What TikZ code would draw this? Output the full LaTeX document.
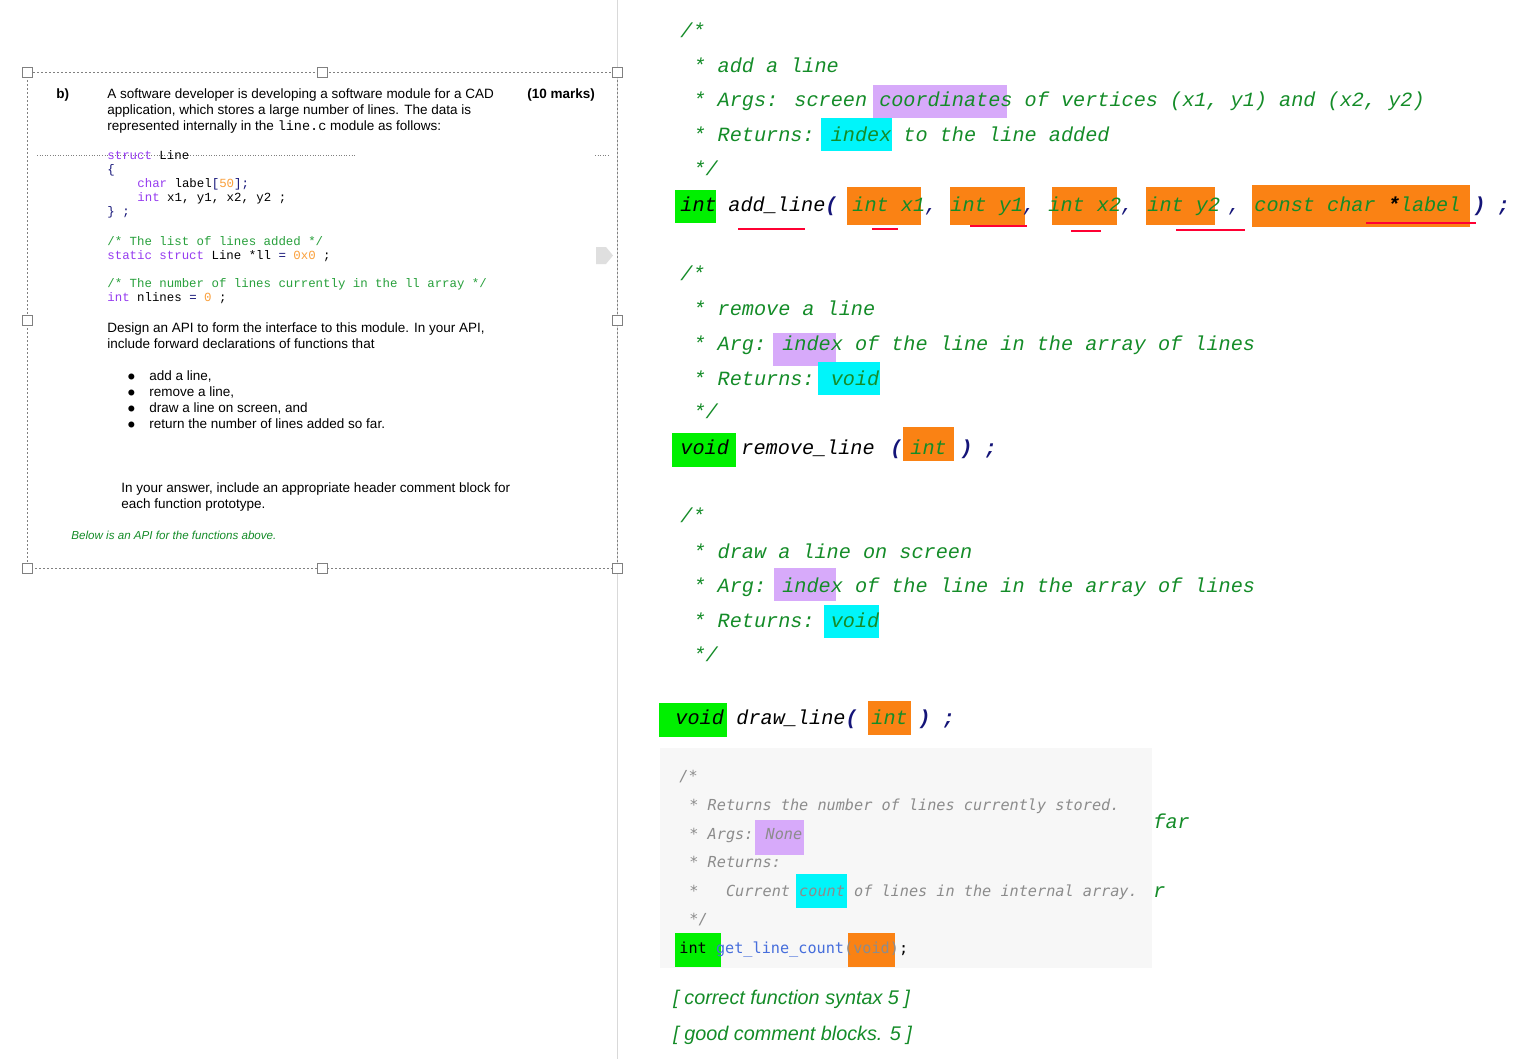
\documentclass[tikz,border=0pt]{standalone}
\usepackage{fontspec}
\setmainfont{Liberation Sans}
\newfontfamily\cm{Liberation Mono}
\newfontfamily\gm{DejaVu Sans Mono}
\definecolor{cg}{RGB}{20,140,40}
\definecolor{hgreen}{RGB}{0,240,0}
\definecolor{horange}{RGB}{250,130,20}
\definecolor{hpurple}{RGB}{215,170,250}
\definecolor{hcyan}{RGB}{0,245,250}
\definecolor{kw}{RGB}{150,60,240}
\definecolor{num}{RGB}{250,160,60}
\definecolor{nv}{RGB}{20,20,120}
\definecolor{lg}{RGB}{40,160,60}
\definecolor{gtx}{RGB}{140,140,140}
\definecolor{fnb}{RGB}{70,110,220}
\tikzset{
 T/.style={anchor=base west,inner sep=0pt},
 big/.style={T,font=\cm\itshape\fontsize{10.1}{12}\selectfont,text=cg},
 gry/.style={T,font=\gm\itshape\fontsize{7.6}{9}\selectfont,text=gtx},
 lt/.style={T,font=\fontsize{6.75}{8}\selectfont},
 lc/.style={T,font=\cm\fontsize{6.2}{7}\selectfont},
 hd/.style={draw=gray,fill=white,line width=0.4pt,minimum size=5pt,inner sep=0pt},
 ul/.style={draw=red!80!magenta,line width=0.6pt}
}
\newcommand\hl[5]{\fill[#1] (#2,#3) rectangle (#4,#5);}
\begin{document}
\begin{tikzpicture}[x=0.5pt,y=-0.5pt]
\useasboundingbox (0,0) rectangle (1524,1059);
\fill[white] (0,0) rectangle (1524,1059);
\draw[gray!30] (617,0) -- (617,1059);
% ---- left panel
\draw[gray,dash pattern=on 1pt off 1pt,line width=0.3pt] (27,72) rectangle (617,568);
\foreach \p/\q [count=\i] in {27/72,322/72,617/72,27/320,617/320,27/568,322/568,617/568}
  \node[hd] (h\i) at (\p,\q) {};
\draw[gray,densely dotted,line width=0.3pt] (37,155) -- (355,155) (595,155) -- (610,155);
\fill[gray!25] (596,247) -- (606,247) -- (613,255.5) -- (606,264) -- (596,264) -- cycle;
\node[lt,font=\bfseries\fontsize{6.75}{8}\selectfont] (b) at (56,99) {b)};
\node[lt,font=\bfseries\fontsize{6.75}{8}\selectfont] (mk) at (527,99) {(10 marks)};
\node[lt] (p1) at (107,99) {A software developer is developing a software module for a CAD};
\node[lt] (p2) at (107,115) {application, which stores a large number of lines. The data is};
\node[lt] (p3) at (107,131) {represented internally in the {\cm line.c} module as follows:};
\node[lc] (c1) at (107,160) {\textcolor{kw}{struct} Line};
\node[lc,text=nv] (c2) at (107,174) {\{};
\node[lc] (c3) at (137,188) {\textcolor{kw}{char} label\textcolor{nv}{[}\textcolor{num}{50}\textcolor{nv}{];}};
\node[lc] (c4) at (137,202) {\textcolor{kw}{int} x1, y1, x2, y2 ;};
\node[lc,text=nv] (c5) at (107,216) {\} ;};
\node[lc,text=lg] (c6) at (107,245) {/* The list of lines added */};
\node[lc] (c7) at (107,259) {\textcolor{kw}{static struct} Line *ll \textcolor{nv}{=} \textcolor{num}{0x0} ;};
\node[lc,text=lg] (c8) at (107,287) {/* The number of lines currently in the ll array */};
\node[lc] (c9) at (107,301) {\textcolor{kw}{int} nlines \textcolor{nv}{=} \textcolor{num}{0} ;};
\node[lt] (d1) at (107,332) {Design an API to form the interface to this module. In your API,};
\node[lt] (d2) at (107,348) {include forward declarations of functions that};
\foreach \yy/\tt [count=\i] in {380/{add a line,},396/{remove a line,},412/{draw a line on screen, and},428/return the number of lines added so far.}{
  \node[lt] (bd\i) at (127,\yy) {$\bullet$};
  \node[lt] (bt\i) at (149,\yy) {\tt};}
\node[lt] (a1) at (121,492) {In your answer, include an appropriate header comment block for};
\node[lt] (a2) at (121,508) {each function prototype.};
\node[lt,font=\itshape\fontsize{5.8}{7}\selectfont,text=cg] (bl) at (71,539) {Below is an API for the functions above.};
% ---- right block 1
\hl{hpurple}{873}{85}{1007}{118}
\hl{hcyan}{821}{118}{892}{151}
\hl{hgreen}{675}{190}{716}{223}
\hl{horange}{847}{187}{921}{225}
\hl{horange}{950}{187}{1025}{225}
\hl{horange}{1052}{187}{1117}{225}
\hl{horange}{1146}{187}{1215}{225}
\hl{horange}{1252}{185}{1470}{227}
\node[big] (r1) at (680,38) {/*};
\node[big] (r2) at (693,73) {* add a line};
\node[big] (r3) at (693,107) {* Args: screen coordinates of vertices (x1, y1) and (x2, y2)};
\node[big] (r4) at (693,142) {* Returns: index to the line added};
\node[big] (r5) at (693,176) {*/};
\node[big,text=black] (k1) at (680,212) {int};
\node[big,text=black] (k2) at (728,212) {add\_line\textcolor{nv}{\bfseries(}};
\node[big] (k3) at (852,212) {int x1\textcolor{nv}{,}};
\node[big] (k4) at (950,212) {int y1\textcolor{nv}{,}};
\node[big] (k5) at (1048,212) {int x2\textcolor{nv}{,}};
\node[big] (k6) at (1147,212) {int y2};
\node[big,text=nv] (k7) at (1228,212) {,};
\node[big] (k8) at (1254,212) {const char \textcolor{black}{\bfseries*}label};
\node[big,text=nv,font=\cm\bfseries\itshape\fontsize{10.1}{12}\selectfont] (k9) at (1473,212) {) ;};
\draw[ul] (738,229) -- (805,229) (872,229) -- (898,229) (970,226) -- (1027,226)
  (1071,231) -- (1101,231) (1176,230) -- (1245,230) (1366,223) -- (1476,223);
% ---- block 2
\hl{hpurple}{773}{333}{836}{366}
\hl{hcyan}{818}{362}{880}{395}
\hl{hgreen}{672}{433}{736}{467}
\hl{horange}{903}{427}{954}{461}
\node[big] (s1) at (680,280) {/*};
\node[big] (s2) at (693,315) {* remove a line};
\node[big] (s3) at (693,350) {* Arg: index of the line in the array of lines};
\node[big] (s4) at (693,385) {* Returns: void};
\node[big] (s5) at (693,418) {*/};
\node[big,text=black] (s6) at (680,454) {void};
\node[big,text=black] (s7) at (741,454) {remove\_line};
\node[big,text=nv,font=\cm\bfseries\itshape\fontsize{10.1}{12}\selectfont] (s8) at (890,454) {(};
\node[big] (s9) at (910,454) {int};
\node[big,text=nv,font=\cm\bfseries\itshape\fontsize{10.1}{12}\selectfont] (s10) at (960,454) {) ;};
% ---- block 3
\hl{hpurple}{774}{568}{836}{601}
\hl{hcyan}{824}{605}{879}{638}
\hl{hgreen}{659}{703}{727}{737}
\hl{horange}{868}{701}{911}{735}
\node[big] (t1) at (680,522) {/*};
\node[big] (t2) at (693,558) {* draw a line on screen};
\node[big] (t3) at (693,592) {* Arg: index of the line in the array of lines};
\node[big] (t4) at (693,627) {* Returns: void};
\node[big] (t5) at (693,661) {*/};
\node[big,text=black] (t6) at (675,724) {void};
\node[big,text=black] (t7) at (736,724) {draw\_line\textcolor{nv}{\bfseries(}};
\node[big] (t8) at (871,724) {int};
\node[big,text=nv,font=\cm\bfseries\itshape\fontsize{10.1}{12}\selectfont] (t9) at (918,724) {) ;};
% ---- gray box
\fill[gray!6] (660,748) rectangle (1152,968);
\hl{hpurple}{755}{820}{804}{855}
\hl{hcyan}{796}{874}{847}{908}
\hl{hgreen}{675}{933}{721}{967}
\hl{horange}{848}{933}{895}{967}
\node[gry] (g1) at (679,781) {/*};
\node[gry] (g2) at (689,810) {* Returns the number of lines currently stored.};
\node[gry] (g3) at (689,839) {* Args: None};
\node[gry] (g4) at (689,867) {* Returns:};
\node[gry] (g5) at (689,896) {*\ \ \ Current count of lines in the internal array.};
\node[gry] (g6) at (689,924) {*/};
\node[gry,font=\gm\fontsize{7.6}{9}\selectfont,text=black] (g7) at (679,953) {int \textcolor{fnb}{get\_line\_count}\textcolor{gtx}{(void)};};
\node[big] (f1) at (1153,828) {far};
\node[big] (f2) at (1153,897) {r};
\node[T,font=\itshape\fontsize{9.9}{11}\selectfont,text=cg] (m1) at (673,1004) {[ correct function syntax 5 ]};
\node[T,font=\itshape\fontsize{9.9}{11}\selectfont,text=cg] (m2) at (673,1040) {[ good comment blocks. 5 ]};
\end{tikzpicture}
\end{document}
